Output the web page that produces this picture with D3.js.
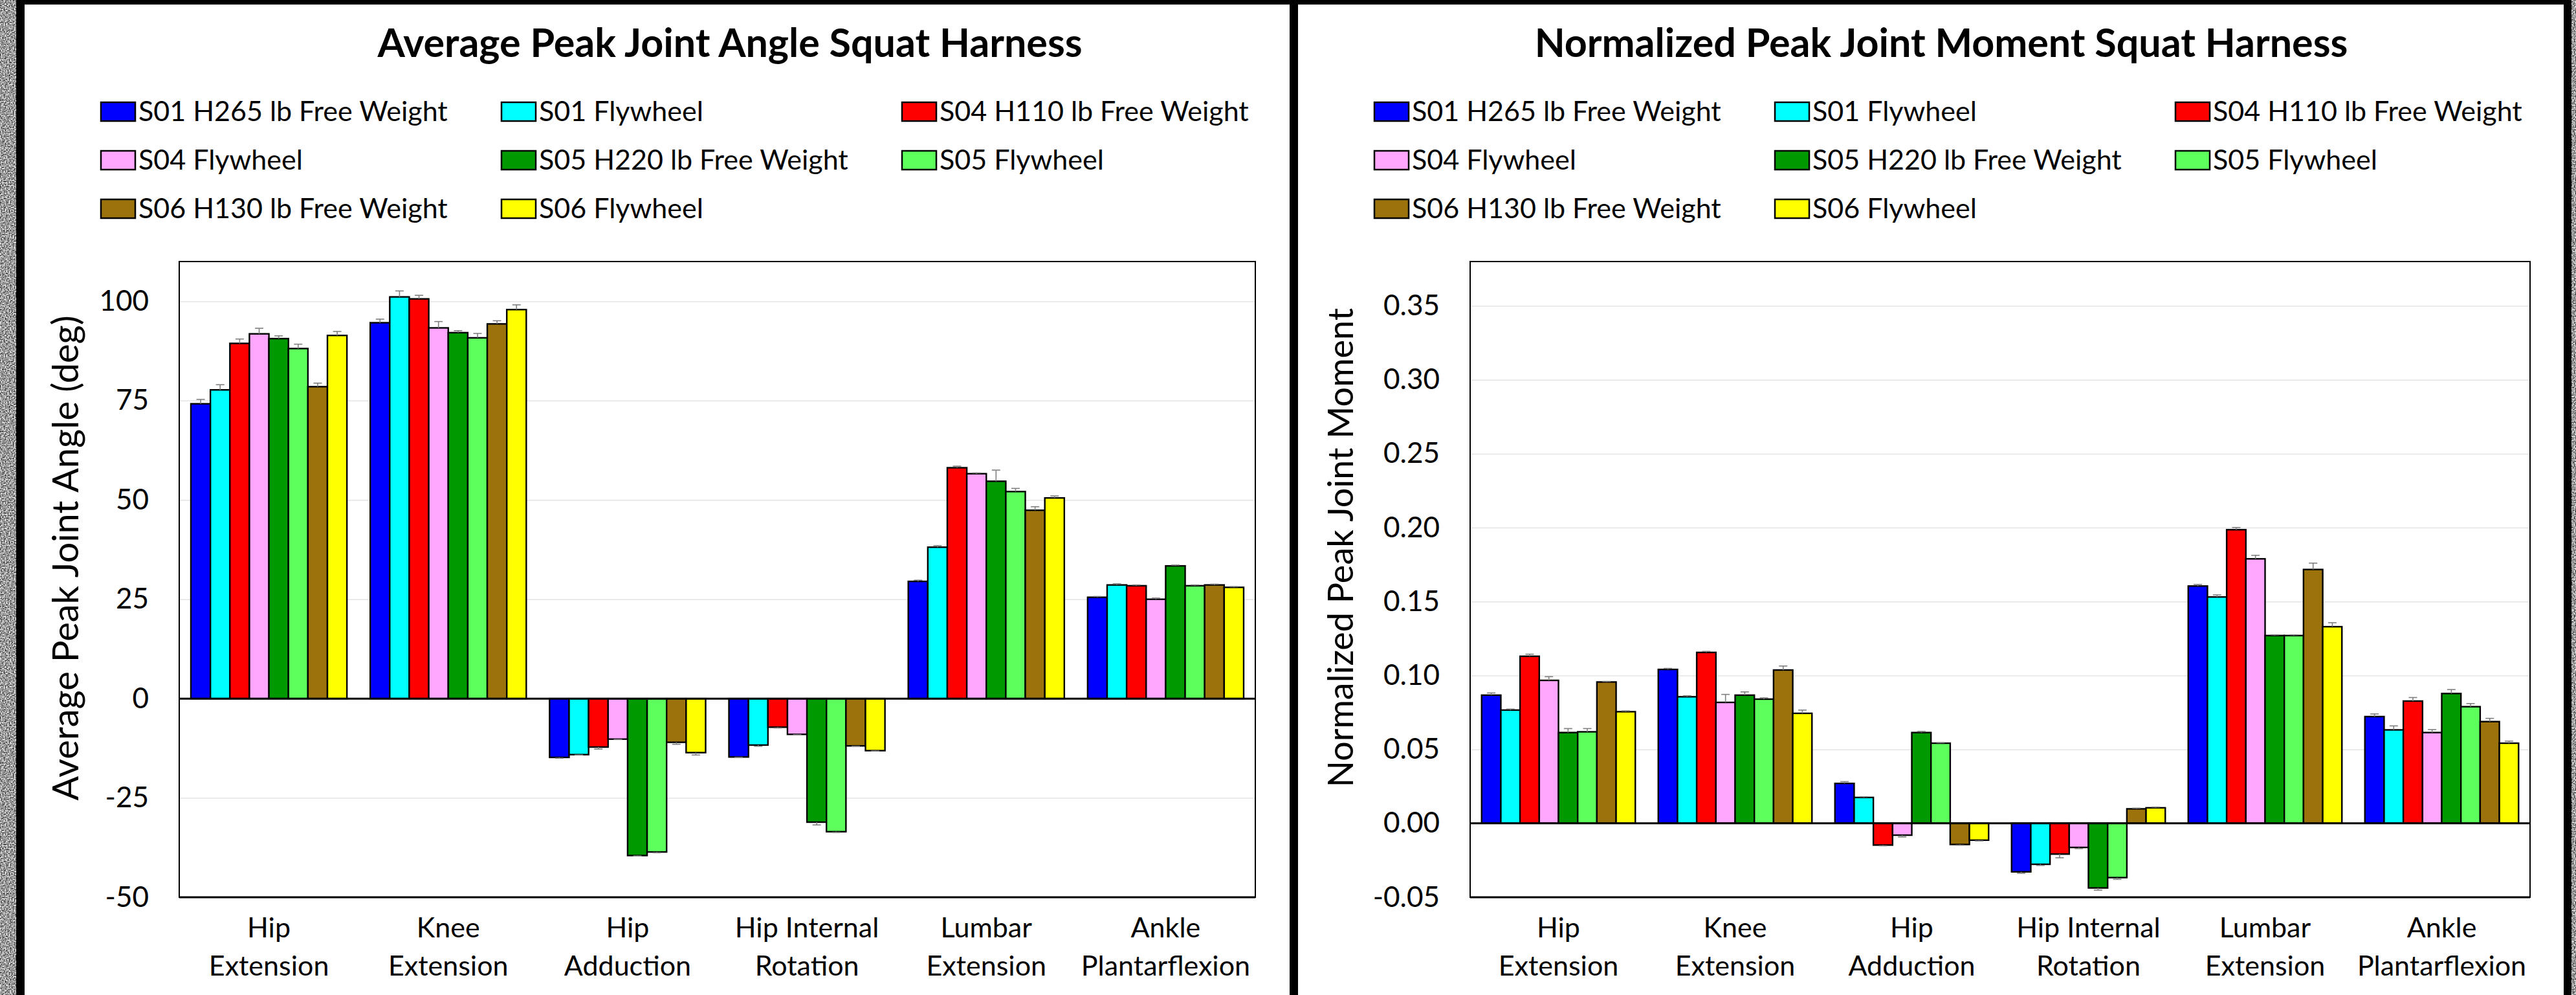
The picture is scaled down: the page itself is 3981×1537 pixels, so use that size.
<!DOCTYPE html>
<html>
<head>
<meta charset="utf-8">
<script src="https://cdn.jsdelivr.net/npm/d3@7/dist/d3.min.js"></script>
<style>
  body { margin: 0; background: #fff; }
  text { font-family: Lato, "Open Sans", sans-serif; fill: #000; }
</style>
</head>
<body>
<div id="container"></div>
<script>
const categories = [
  ["Hip", "Extension"], ["Knee", "Extension"], ["Hip", "Adduction"],
  ["Hip Internal", "Rotation"], ["Lumbar", "Extension"], ["Ankle", "Plantarflexion"]
];
const seriesNames = [
  "S01 H265 lb Free Weight", "S01 Flywheel", "S04 H110 lb Free Weight",
  "S04 Flywheel", "S05 H220 lb Free Weight", "S05 Flywheel",
  "S06 H130 lb Free Weight", "S06 Flywheel"
];
const seriesColors = ["#0000ff", "#00ffff", "#ff0000", "#ffa6ff", "#009900", "#5cff5c", "#9c720c", "#ffff00"];

// one row per category, one entry per series
const angleValues = [
  [74.2, 77.7, 89.4, 91.8, 90.6, 88.1, 78.5, 91.4],
  [94.6, 101.1, 100.6, 93.3, 92.1, 90.8, 94.3, 97.9],
  [-14.8, -14.1, -12.2, -10.2, -39.5, -38.6, -11.0, -13.6],
  [-14.7, -11.7, -7.2, -9.0, -31.1, -33.5, -11.9, -13.1],
  [29.5, 38.1, 58.1, 56.6, 54.7, 52.1, 47.4, 50.5],
  [25.5, 28.6, 28.4, 25.0, 33.4, 28.4, 28.6, 28.0]
];
const angleErrors = [
  [1.1, 1.3, 1.1, 1.4, 0.7, 1.1, 0.9, 1.0],
  [0.9, 1.5, 0.9, 1.6, 0.5, 1.1, 0.8, 1.2],
  [0.2, 0.1, 0.5, 0.1, 0.1, 0.2, 0.5, 0.6],
  [0.1, 0.3, 0.2, 0.1, 0.7, 0.2, 0.1, 0.1],
  [0.3, 0.4, 0.4, 0.2, 2.8, 0.8, 0.9, 0.5],
  [0.2, 0.3, 0.2, 0.3, 0.2, 0.2, 0.2, 0.2]
];
const momentValues = [
  [0.0867, 0.0766, 0.1130, 0.0967, 0.0614, 0.0619, 0.0956, 0.0755],
  [0.1041, 0.0856, 0.1156, 0.0818, 0.0867, 0.0840, 0.1037, 0.0744],
  [0.0270, 0.0175, -0.0147, -0.0080, 0.0614, 0.0542, -0.0143, -0.0114],
  [-0.0328, -0.0277, -0.0208, -0.0163, -0.0437, -0.0367, 0.0098, 0.0105],
  [0.1605, 0.1531, 0.1986, 0.1789, 0.1270, 0.1270, 0.1717, 0.1330],
  [0.0722, 0.0632, 0.0827, 0.0614, 0.0878, 0.0789, 0.0688, 0.0542]
];
const momentErrors = [
  [0.0015, 0.0007, 0.0014, 0.0025, 0.0027, 0.0022, 0.0004, 0.0006],
  [0.0007, 0.0007, 0.0007, 0.0054, 0.0022, 0.0009, 0.0027, 0.0022],
  [0.0012, 0.0005, 0.0005, 0.0012, 0.0008, 0.0004, 0.0005, 0.0005],
  [0.0010, 0.0008, 0.0025, 0.0008, 0.0015, 0.0012, 0.0005, 0.0005],
  [0.0011, 0.0014, 0.0015, 0.0024, 0.0005, 0.0005, 0.0043, 0.0027],
  [0.0018, 0.0027, 0.0024, 0.0020, 0.0027, 0.0021, 0.0022, 0.0014]
];
const angleTicks = [-50, -25, 0, 25, 50, 75, 100];
const momentTicks = [-0.05, 0, 0.05, 0.10, 0.15, 0.20, 0.25, 0.30, 0.35];

const width = 3981, height = 1537;

const svg = d3.select("#container").append("svg")
    .attr("width", width)
    .attr("height", height);

// grainy grey frame behind the two panels
const grain = svg.append("defs").append("filter").attr("id", "grain")
    .attr("x", 0).attr("y", 0).attr("width", 1).attr("height", 1)
    .attr("color-interpolation-filters", "sRGB");
grain.append("feTurbulence").attr("type", "fractalNoise")
    .attr("baseFrequency", 0.5).attr("numOctaves", 3).attr("seed", 4);
grain.append("feColorMatrix").attr("type", "matrix")
    .attr("values", "1.6 0 0 0 -0.2  1.6 0 0 0 -0.2  1.6 0 0 0 -0.2  0 0 0 0 1");

svg.append("rect").attr("width", width).attr("height", height).attr("fill", "#8c8c8c");
svg.append("rect").attr("width", width).attr("height", height).attr("filter", "url(#grain)");
svg.append("rect").attr("x", 25).attr("width", 3974 - 25).attr("height", height).attr("fill", "#000");
svg.append("rect").attr("x", 38).attr("y", 7).attr("width", 1993 - 38).attr("height", height).attr("fill", "#fff");
svg.append("rect").attr("x", 2006).attr("y", 7).attr("width", 3962 - 2006).attr("height", height).attr("fill", "#fff");

function BarPanel(values, errors, {
    panelX,
    title,
    titleX,
    yLabel,
    yLabelX,
    yLabelY,
    yLabelSize = 55,
    left,
    right,
    top = 404,
    bottom = 1386,
    domain,
    ticks,
    format,
    tickRight,
  } = {}) {

    const g = svg.append("g");

    const x0 = d3.scaleBand()
        .domain(d3.range(categories.length))
        .range([left, right])
        .paddingInner(0.13)
        .paddingOuter(0.065);

    const x1 = d3.scaleBand()
        .domain(d3.range(seriesNames.length))
        .range([0, x0.bandwidth()]);

    const y = d3.scaleLinear()
        .domain(domain)
        .range([bottom, top]);

    // title
    g.append("text")
        .attr("x", titleX)
        .attr("y", 88)
        .attr("text-anchor", "middle")
        .attr("font-size", 61)
        .attr("font-weight", "bold")
        .text(title);

    // legend, three columns
    const colX = [118, 737, 1356];
    const legend = g.append("g")
        .selectAll("g")
        .data(seriesNames)
        .enter().append("g")
        .attr("transform", (d, i) => "translate(" + (panelX + colX[i % 3]) + "," + (187 + Math.floor(i / 3) * 75) + ")");

    legend.append("rect")
        .attr("y", -29)
        .attr("width", 53)
        .attr("height", 29)
        .attr("fill", (d, i) => seriesColors[i])
        .attr("stroke", "#000")
        .attr("stroke-width", 2.5);

    legend.append("text")
        .attr("x", 58)
        .attr("font-size", 43)
        .text(d => d);

    // gridlines
    const grid = g.append("g")
        .attr("transform", "translate(" + left + ",0)")
        .call(d3.axisLeft(y).tickValues(ticks).tickSize(-(right - left)).tickFormat(""));
    grid.select(".domain").remove();
    grid.selectAll("line").attr("stroke", "#e4e4e4").attr("stroke-width", 1.5);

    // y tick labels
    const yAxis = g.append("g")
        .attr("transform", "translate(" + tickRight + ",0)")
        .call(d3.axisLeft(y).tickValues(ticks).tickSize(0).tickPadding(0).tickFormat(format));
    yAxis.select(".domain").remove();
    yAxis.attr("font-size", 44).attr("font-family", null);

    // x labels on two lines
    const xAxis = g.append("g")
        .attr("transform", "translate(0," + bottom + ")")
        .call(d3.axisBottom(x0).tickSize(0).tickFormat(""));
    xAxis.select(".domain").remove();
    xAxis.attr("font-size", 43).attr("font-family", null);
    xAxis.selectAll(".tick text")
        .attr("y", null)
        .attr("dy", null)
        .each(function(d) {
            const t = d3.select(this);
            categories[d].forEach((line, k) => {
                t.append("tspan").attr("x", 0).attr("y", 62 + k * 59).text(line);
            });
        });

    // y axis title
    g.append("text")
        .attr("transform", "translate(" + yLabelX + "," + yLabelY + ") rotate(-90)")
        .attr("text-anchor", "middle")
        .attr("font-size", yLabelSize)
        .text(yLabel);

    // bars
    const groups = g.append("g")
        .selectAll("g")
        .data(values)
        .enter().append("g")
        .attr("transform", (d, i) => "translate(" + x0(i) + ",0)");

    groups.selectAll("rect")
        .data(d => d)
        .enter().append("rect")
        .attr("x", (d, j) => x1(j))
        .attr("y", d => y(Math.max(0, d)))
        .attr("width", x1.bandwidth())
        .attr("height", d => Math.abs(y(d) - y(0)))
        .attr("fill", (d, j) => seriesColors[j])
        .attr("stroke", "#000")
        .attr("stroke-width", 2.4);

    // error bars, drawn away from zero
    const errs = groups.selectAll("g.err")
        .data((d, i) => d.map((v, j) => ({ v: v, e: errors[i][j], j: j })))
        .enter().append("g")
        .attr("class", "err")
        .attr("stroke", "#808080")
        .attr("stroke-width", 1.6);

    errs.append("line")
        .attr("x1", d => x1(d.j) + x1.bandwidth() / 2)
        .attr("x2", d => x1(d.j) + x1.bandwidth() / 2)
        .attr("y1", d => y(d.v))
        .attr("y2", d => y(d.v + Math.sign(d.v) * d.e));

    errs.append("line")
        .attr("x1", d => x1(d.j) + x1.bandwidth() / 2 - 6.5)
        .attr("x2", d => x1(d.j) + x1.bandwidth() / 2 + 6.5)
        .attr("y1", d => y(d.v + Math.sign(d.v) * d.e))
        .attr("y2", d => y(d.v + Math.sign(d.v) * d.e));

    // zero line and frame
    g.append("line")
        .attr("x1", left).attr("x2", right)
        .attr("y1", y(0)).attr("y2", y(0))
        .attr("stroke", "#000").attr("stroke-width", 3);

    g.append("rect")
        .attr("x", left).attr("y", top)
        .attr("width", right - left).attr("height", bottom - top)
        .attr("fill", "none").attr("stroke", "#000").attr("stroke-width", 2);

    g.append("line")
        .attr("x1", left).attr("x2", right)
        .attr("y1", bottom).attr("y2", bottom)
        .attr("stroke", "#000").attr("stroke-width", 3);
}

BarPanel(angleValues, angleErrors, {
    panelX: 38,
    title: "Average Peak Joint Angle Squat Harness",
    titleX: 1128,
    yLabel: "Average Peak Joint Angle (deg)",
    yLabelX: 121,
    yLabelY: 862,
    yLabelSize: 56,
    left: 277,
    right: 1940,
    domain: [-50, 110],
    ticks: angleTicks,
    format: d => d.toFixed(0),
    tickRight: 230,
});

BarPanel(momentValues, momentErrors, {
    panelX: 2006,
    title: "Normalized Peak Joint Moment Squat Harness",
    titleX: 3000,
    yLabel: "Normalized Peak Joint Moment",
    yLabelX: 2091,
    yLabelY: 846,
    yLabelSize: 54,
    left: 2272,
    right: 3910,
    domain: [-0.05, 0.38],
    ticks: momentTicks,
    format: d => d.toFixed(2),
    tickRight: 2225,
});
</script>
</body>
</html>
